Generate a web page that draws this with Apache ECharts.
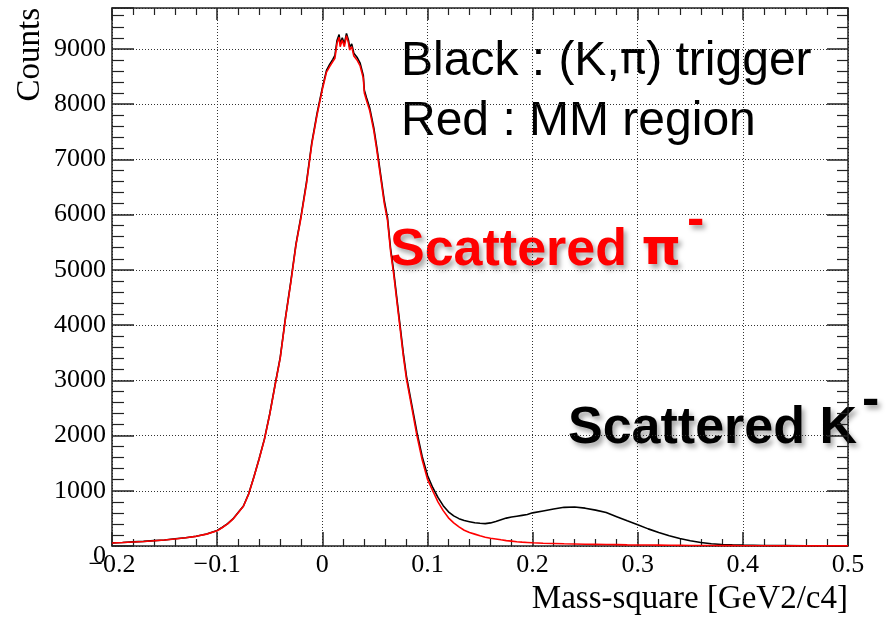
<!DOCTYPE html>
<html>
<head>
<meta charset="utf-8">
<title>Mass-square</title>
<script src="https://cdn.jsdelivr.net/npm/echarts@6/dist/echarts.min.js"></script>
<style>
  html, body { margin: 0; padding: 0; background: #fff; }
  #chart { width: 891px; height: 620px; }
</style>
</head>
<body>
<div id="chart"></div>
<script>
// Bin centres of the mass-square histogram [GeV2/c4]
const massSquare = [
  -0.200, -0.190, -0.180, -0.170, -0.160, -0.150, -0.140, -0.130, -0.120, -0.110,
  -0.100, -0.095, -0.090, -0.085, -0.080, -0.075, -0.070, -0.065, -0.060, -0.055,
  -0.050, -0.045, -0.040, -0.035, -0.030, -0.025, -0.020, -0.015, -0.010, -0.005,
  0.000, 0.004, 0.007, 0.010, 0.012, 0.014, 0.016, 0.017, 0.019, 0.021,
  0.023, 0.025, 0.026, 0.028, 0.030, 0.033, 0.036, 0.039, 0.040, 0.042,
  0.045, 0.049, 0.052, 0.055, 0.059, 0.062, 0.065, 0.068, 0.071, 0.074,
  0.077, 0.080, 0.085, 0.090, 0.095, 0.100, 0.105, 0.110, 0.115, 0.120,
  0.125, 0.130, 0.135, 0.140, 0.145, 0.150, 0.155, 0.160, 0.165, 0.170,
  0.175, 0.180, 0.185, 0.190, 0.195, 0.200, 0.210, 0.220, 0.230, 0.240,
  0.250, 0.260, 0.270, 0.280, 0.290, 0.300, 0.310, 0.320, 0.330, 0.340,
  0.350, 0.360, 0.370, 0.380, 0.390, 0.400, 0.420, 0.440, 0.460, 0.480,
  0.500
];

// Black: (K,pi) trigger
const triggerCounts = [
  57, 64, 74, 84, 97, 110, 130, 150, 178, 218,
  280, 340, 405, 490, 605, 725, 945, 1255, 1585, 1940,
  2390, 2910, 3415, 4135, 4780, 5470, 5995, 6590, 7300, 7830,
  8290, 8610, 8720, 8810, 8880, 9150, 9260, 9090, 9200, 9090,
  9280, 9150, 9030, 9090, 8920, 8850, 8740, 8520, 8250, 8120,
  7940, 7570, 7200, 6790, 6250, 5950, 5380, 4960, 4470, 3990,
  3500, 3080, 2570, 2060, 1620, 1280, 1060, 880, 730, 620,
  545, 495, 460, 440, 420, 412, 405, 418, 445, 475,
  505, 525, 540, 555, 570, 600, 635, 670, 700, 705,
  685, 650, 605, 530, 455, 385, 310, 245, 185, 135,
  95, 62, 40, 28, 20, 15, 10, 7, 5, 4,
  3
];

// Red: MM region
const mmRegionCounts = [
  55, 62, 72, 82, 95, 108, 128, 148, 175, 215,
  275, 335, 400, 485, 600, 720, 940, 1250, 1580, 1930,
  2380, 2900, 3400, 4120, 4760, 5450, 5970, 6560, 7270, 7800,
  8260, 8580, 8680, 8770, 8830, 9100, 9210, 9040, 9160, 9040,
  9240, 9100, 8980, 9040, 8870, 8800, 8690, 8470, 8200, 8070,
  7890, 7520, 7150, 6740, 6200, 5900, 5330, 4910, 4420, 3940,
  3450, 3030, 2520, 2000, 1560, 1210, 1000, 800, 640, 510,
  420, 345, 285, 245, 215, 185, 160, 140, 127, 112,
  98, 88, 78, 70, 64, 58, 50, 45, 40, 37,
  33, 30, 27, 24, 21, 19, 17, 15, 13, 12,
  10, 9, 8, 7, 6, 5, 4, 3, 3, 2,
  2
];

const xRange = [-0.2, 0.5];
const yRange = [0, 9740];

const toPairs = (xs, ys) => xs.map((x, i) => [x, ys[i]]);

const serif = 'Liberation Serif';
const sans = 'Liberation Sans';
const greek = 'DejaVu Sans';

const gridLine = { show: true, lineStyle: { color: '#333', width: 1, type: [1, 2] } };
const frameLine = { show: true, onZero: false, lineStyle: { color: '#222', width: 1.5 } };

const shadow = {
  textShadowColor: 'rgba(0,0,0,0.35)', textShadowBlur: 5, textShadowOffsetX: 3, textShadowOffsetY: 4
};

const chart = echarts.init(document.getElementById('chart'), null, { renderer: 'canvas' });

chart.setOption({
  animation: false,
  backgroundColor: '#fff',
  grid: { left: 112, right: 43, top: 8, bottom: 74, containLabel: false },
  xAxis: [
    {
      type: 'value', position: 'bottom', min: xRange[0], max: xRange[1], interval: 0.1,
      axisLine: frameLine,
      axisTick: { show: true, inside: true, length: 14, lineStyle: { color: '#222', width: 1.5 } },
      minorTick: { show: true, splitNumber: 5, length: 7, lineStyle: { color: '#222', width: 1.2 } },
      splitLine: gridLine,
      axisLabel: {
        margin: 6, color: '#000', fontFamily: serif, fontSize: 26,
        formatter: v => {
          const r = Math.round(v * 10) / 10;
          return r < 0 ? '\u2212' + String(-r) : String(r);
        }
      }
    },
    {
      type: 'value', position: 'top', min: xRange[0], max: xRange[1], interval: 0.1,
      axisLine: frameLine,
      axisTick: { show: true, inside: true, length: 12, lineStyle: { color: '#222', width: 1.5 } },
      minorTick: { show: true, splitNumber: 5, length: 7, lineStyle: { color: '#222', width: 1.2 } },
      splitLine: { show: false },
      axisLabel: { show: false }
    }
  ],
  yAxis: [
    {
      type: 'value', position: 'left', min: yRange[0], max: yRange[1], interval: 1000,
      axisLine: frameLine,
      axisTick: { show: true, inside: true, length: 22, lineStyle: { color: '#222', width: 1.5 } },
      minorTick: { show: true, splitNumber: 5, length: 12, lineStyle: { color: '#222', width: 1.2 } },
      splitLine: gridLine,
      axisLabel: {
        margin: 6, color: '#000', fontFamily: serif, fontSize: 26, showMaxLabel: false,
        formatter: v => (v === 0 ? '{z|0}' : String(v)),
        rich: { z: { fontFamily: serif, fontSize: 26, color: '#000', padding: [20, 0, 0, 0] } }
      }
    },
    {
      type: 'value', position: 'right', min: yRange[0], max: yRange[1], interval: 1000,
      axisLine: frameLine,
      axisTick: { show: true, inside: true, length: 21, lineStyle: { color: '#222', width: 1.5 } },
      minorTick: { show: true, splitNumber: 5, length: 11, lineStyle: { color: '#222', width: 1.2 } },
      splitLine: { show: false },
      axisLabel: { show: false }
    }
  ],
  series: [
    {
      name: '(K,\u03c0) trigger', type: 'line', xAxisIndex: 0, yAxisIndex: 0,
      data: toPairs(massSquare, triggerCounts),
      showSymbol: false, symbol: 'none',
      lineStyle: { color: '#000', width: 1.6 }, z: 3
    },
    {
      name: 'MM region', type: 'line', xAxisIndex: 0, yAxisIndex: 0,
      data: toPairs(massSquare, mmRegionCounts),
      showSymbol: false, symbol: 'none',
      lineStyle: { color: '#ff0000', width: 1.6 }, z: 4
    }
  ],
  graphic: [
    {
      type: 'text', x: 30, y: 8, rotation: Math.PI / 2,
      style: { text: 'Counts', font: '33px "' + serif + '"', fill: '#000', align: 'right', verticalAlign: 'middle' }
    },
    {
      type: 'text', x: 848, y: 583,
      style: { text: 'Mass-square [GeV2/c4]', font: '33px "' + serif + '"', fill: '#000', align: 'right', verticalAlign: 'top' }
    },
    {
      type: 'text', x: 401, y: 62,
      style: {
        text: 'Black : (K,{g|\u03c0}) trigger', font: '48px "' + sans + '"', fill: '#000', align: 'left', verticalAlign: 'middle',
        rich: { g: { fontFamily: greek, fontSize: 44, fill: '#000' } }
      }
    },
    {
      type: 'text', x: 401, y: 122,
      style: { text: 'Red : MM region', font: '48px "' + sans + '"', fill: '#000', align: 'left', verticalAlign: 'middle' }
    },
    {
      type: 'text', x: 390, y: 251,
      style: Object.assign({
        text: 'Scattered {g|\u03c0}', font: 'bold 52px "' + sans + '"', fill: '#ff0000', align: 'left', verticalAlign: 'middle',
        rich: { g: Object.assign({ fontFamily: greek, fontWeight: 'bold', fontSize: 50, fill: '#ff0000' }, shadow) }
      }, shadow)
    },
    {
      type: 'text', x: 687, y: 221,
      style: Object.assign({
        text: '-', font: 'bold 52px "' + sans + '"', fill: '#ff0000', align: 'left', verticalAlign: 'middle'
      }, shadow)
    },
    {
      type: 'text', x: 568, y: 429,
      style: Object.assign({
        text: 'Scattered K', font: 'bold 52px "' + sans + '"', fill: '#000', align: 'left', verticalAlign: 'middle'
      }, shadow)
    },
    {
      type: 'text', x: 862, y: 401,
      style: Object.assign({
        text: '-', font: 'bold 52px "' + sans + '"', fill: '#000', align: 'left', verticalAlign: 'middle'
      }, shadow)
    }
  ]
});
</script>
</body>
</html>
